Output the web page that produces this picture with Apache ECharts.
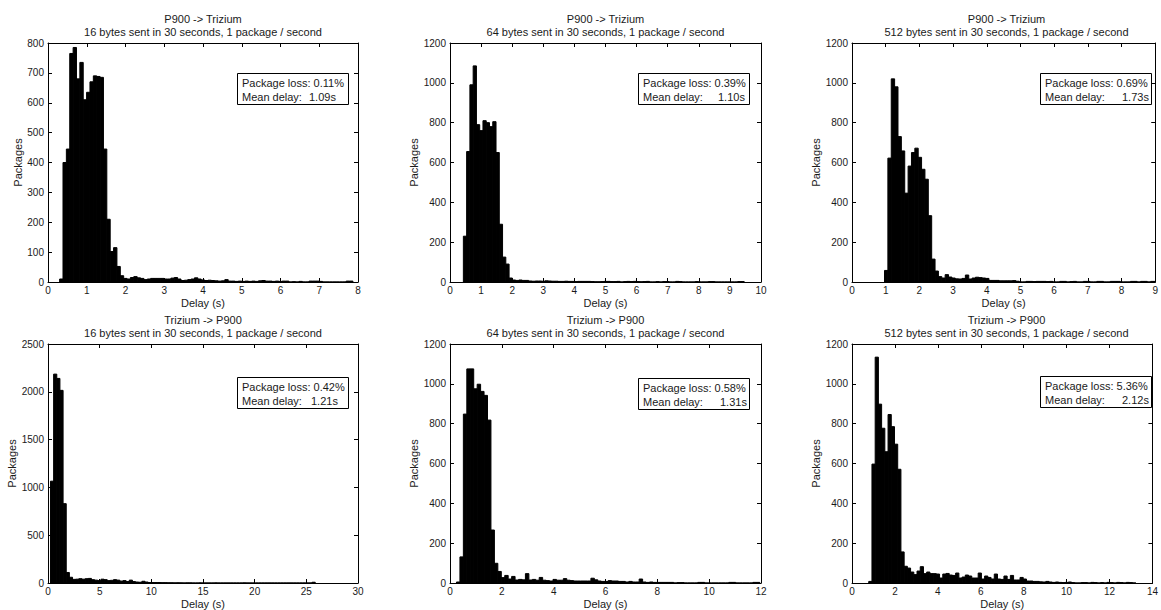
<!DOCTYPE html>
<html>
<head>
<meta charset="utf-8">
<script src="https://cdn.jsdelivr.net/npm/echarts@6/dist/echarts.min.js"></script>
<style>
html,body{margin:0;padding:0;background:#fff;}
#chart{width:1161px;height:610px;}
</style>
</head>
<body>
<div id="chart"></div>
<script>
// ---------------- DATA ----------------
const titleLines = ['P900 -> Trizium', 'P900 -> Trizium', 'P900 -> Trizium', 'Trizium -> P900', 'Trizium -> P900', 'Trizium -> P900'];
const subtitleLines = [
  '16 bytes sent in 30 seconds, 1 package / second',
  '64 bytes sent in 30 seconds, 1 package / second',
  '512 bytes sent in 30 seconds, 1 package / second',
  '16 bytes sent in 30 seconds, 1 package / second',
  '64 bytes sent in 30 seconds, 1 package / second',
  '512 bytes sent in 30 seconds, 1 package / second'
];
const packageLoss = ['0.11%', '0.39%', '0.69%', '0.42%', '0.58%', '5.36%'];
const meanDelay = ['1.09s', '1.10s', '1.73s', '1.21s', '1.31s', '2.12s'];
const xAxisName = 'Delay (s)';
const yAxisName = 'Packages';
const xMax = [8, 10, 9, 30, 12, 14];
const xStep = [1, 1, 1, 5, 2, 2];
const yMax = [800, 1200, 1200, 2500, 1200, 1200];
const yStep = [100, 200, 200, 500, 200, 200];

// histogram bins: first bin edge (s) and bin width (s)
const binStart = [0.30, 0.43, 0.965, 0.24, 0.25, 0.78];
const binWidth = [0.087, 0.105, 0.1, 0.305, 0.133, 0.15];

const counts1 = [10, 400, 445, 765, 785, 680, 735, 610, 635, 670, 690, 688, 685, 445, 210, 102, 115, 52, 21,
  12, 10, 15, 18, 14, 12, 8, 10, 12, 12, 12, 12, 10, 10, 13, 15, 10, 5, 6, 8, 10, 14, 10, 7, 5, 6, 5, 4, 3, 4,
  8, 3, 3, 2, 3, 2, 3, 2, 3, 2, 4, 5, 3, 3, 2, 3, 2, 3, 3, 0, 1, 0, 2, 0, 0, 3, 3, 3, 2, 0, 0, 0, 0, 0, 0, 0, 3, 3];
const counts2 = [230, 655, 990, 1085, 790, 760, 810, 800, 780, 805,
  650, 290, 125, 90, 20, 10, 8, 10, 8, 8,
  5, 4, 5, 5, 4, 6, 5, 4, 4, 3,
  3, 4, 3, 3, 2, 3, 3, 3, 3, 2,
  1, 1, 2, 3, 3, 2, 2, 3, 0, 2,
  3, 2, 3, 2, 1, 2, 3, 0, 0, 2,
  0, 2, 2, 0, 0, 3, 2, 0, 0, 0,
  0, 2, 0, 0, 0, 2, 2, 0, 0, 0,
  0, 0, 0, 0, 2, 2];
const counts3 = [58, 622, 1020, 980, 730, 658, 446, 582, 650, 672,
  626, 566, 516, 333, 115, 55, 27, 20, 37, 25,
  20, 16, 15, 18, 35, 15, 20, 24, 22, 20,
  18, 8, 8, 8, 6, 6, 6, 6, 7, 4,
  0, 0, 3, 3, 2, 3, 3, 3, 2, 3,
  0, 0, 3, 3, 0, 2, 3, 0, 0, 3,
  3, 0, 0, 3, 3, 0, 0, 3, 3, 3,
  0, 0, 0, 3, 3, 0, 3, 3, 0, 3, 3];
const counts4 = [1065, 2185, 2140, 2015, 830, 110, 60, 38, 40, 45,
  40, 45, 48, 35, 30, 25, 40, 35, 25, 28,
  35, 30, 20, 25, 15, 30, 15, 10, 8, 18,
  10, 5, 5, 5, 5, 3, 3, 2, 2, 1,
  2, 1, 0, 1, 1, 0, 0, 1, 0, 0,
  0, 0, 1, 0, 0, 0, 0, 0, 0, 0,
  0, 1, 0, 0, 0, 0, 0, 0, 0, 0,
  0, 0, 0, 0, 0, 0, 0, 0, 0, 0,
  0, 0, 0, 8];
const counts5 = [5, 131, 848, 1075, 1075, 975, 998, 962, 942, 818,
  266, 99, 58, 27, 38, 20, 33, 15, 18, 16,
  47, 15, 18, 14, 28, 14, 12, 10, 18, 14,
  14, 22, 14, 12, 10, 10, 10, 10, 10, 24,
  16, 10, 8, 8, 12, 10, 10, 8, 8, 5,
  8, 5, 5, 20, 5, 3, 5, 3, 3, 3,
  3, 3, 3, 0, 2, 2, 0, 0, 0, 0,
  3, 3, 0, 0, 0, 0, 0, 0, 0, 3,
  3, 0, 0, 0, 0, 0, 3, 3];
const counts6 = [8, 597, 1134, 898, 777, 659, 846, 785, 697, 571,
  156, 84, 75, 55, 42, 60, 82, 47, 55, 47,
  47, 45, 25, 45, 48, 40, 38, 50, 25, 30,
  40, 35, 25, 25, 50, 20, 35, 28, 20, 45,
  20, 18, 35, 18, 38, 15, 15, 28, 20, 10,
  10, 8, 8, 6, 5, 8, 5, 3, 5, 3,
  2, 3, 5, 2, 0, 0, 2, 2, 0, 3,
  2, 0, 2, 0, 3, 2, 0, 3, 2, 0,
  3, 2, 0];
const allCounts = [counts1, counts2, counts3, counts4, counts5, counts6];

// ---------------- LAYOUT / STYLE ----------------
const FONT = '"Liberation Sans", Arial, Helvetica, sans-serif';
const TXT = '#1a1a1a';
const grids = [
  {left: 48, top: 43, width: 310, height: 239},
  {left: 450, top: 43, width: 311, height: 239},
  {left: 852, top: 43, width: 309, height: 239},
  {left: 48, top: 344, width: 310, height: 239},
  {left: 450, top: 344, width: 311, height: 239},
  {left: 852, top: 344, width: 309, height: 239}
];
const yNameGap = [23, 28, 28, 29, 29, 28];
const boxPos = [[237, 73], [638, 73], [1040, 73], [237, 377], [638, 378], [1040, 376]];
const valueOffset = [67, 75, 77, 69, 77, 77];

const xAxes = [], yAxes = [], series = [], graphics = [];
const lineCol = '#000';
const plainNum = function (v) { return String(v); };
grids.forEach((g, i) => {
  const common = {gridIndex: i, type: 'value', min: 0, splitLine: {show: false},
    axisLine: {show: true, onZero: false, lineStyle: {color: lineCol, width: 1}},
    axisTick: {show: true, inside: true, length: 4, lineStyle: {color: lineCol, width: 1}}};
  xAxes.push(Object.assign({}, common, {
    position: 'bottom', max: xMax[i], interval: xStep[i],
    axisLabel: {fontSize: 10, color: TXT, margin: 3, fontFamily: FONT, showMaxLabel: true, showMinLabel: true, formatter: plainNum},
    name: xAxisName, nameLocation: 'middle', nameGap: 15,
    nameTextStyle: {fontSize: 11, color: TXT, fontFamily: FONT}
  }));
  xAxes.push(Object.assign({}, common, {
    position: 'top', max: xMax[i], interval: xStep[i], axisLabel: {show: false}
  }));
  yAxes.push(Object.assign({}, common, {
    position: 'left', max: yMax[i], interval: yStep[i],
    axisLabel: {fontSize: 10, color: TXT, margin: 4, fontFamily: FONT, showMaxLabel: true, formatter: plainNum},
    name: yAxisName, nameLocation: 'middle', nameGap: yNameGap[i],
    nameTextStyle: {fontSize: 11, color: TXT, fontFamily: FONT}
  }));
  yAxes.push(Object.assign({}, common, {
    position: 'right', max: yMax[i], interval: yStep[i], axisLabel: {show: false}
  }));

  const data = allCounts[i].map((c, k) => [binStart[i] + k * binWidth[i], binStart[i] + (k + 1) * binWidth[i], c]);
  series.push({
    type: 'custom', xAxisIndex: 2 * i, yAxisIndex: 2 * i, silent: true, clip: true,
    encode: {x: [0, 1], y: 2},
    data: data,
    renderItem: function (params, api) {
      const p0 = api.coord([api.value(0), api.value(2)]);
      const p1 = api.coord([api.value(1), 0]);
      return {type: 'rect', shape: {x: p0[0], y: p0[1], width: p1[0] - p0[0], height: p1[1] - p0[1]},
        style: {fill: '#000', stroke: '#000', lineWidth: 1}};
    }
  });

  const cx = g.left + g.width / 2;
  const tstyle = {font: '11px ' + FONT, fill: TXT};
  graphics.push({type: 'text', x: cx, y: g.top - 24, silent: true,
    style: Object.assign({text: titleLines[i], align: 'center', verticalAlign: 'middle', textAlign: 'center', textVerticalAlign: 'middle'}, tstyle)});
  graphics.push({type: 'text', x: cx, y: g.top - 11.5, silent: true,
    style: Object.assign({text: subtitleLines[i], align: 'center', verticalAlign: 'middle', textAlign: 'center', textVerticalAlign: 'middle'}, tstyle)});
  const bx = boxPos[i][0], by = boxPos[i][1];
  graphics.push({type: 'rect', silent: true, shape: {x: bx + 0.5, y: by + 0.5, width: 111, height: 31},
    style: {fill: '#fff', stroke: '#000', lineWidth: 1}, z: 100});
  graphics.push({type: 'text', x: bx + 5, y: by + 10, silent: true, z: 101,
    style: Object.assign({text: 'Package loss: ' + packageLoss[i], verticalAlign: 'middle', textVerticalAlign: 'middle'}, tstyle)});
  graphics.push({type: 'text', x: bx + 5, y: by + 23.5, silent: true, z: 101,
    style: Object.assign({text: 'Mean delay:', verticalAlign: 'middle', textVerticalAlign: 'middle'}, tstyle)});
  graphics.push({type: 'text', x: bx + 5 + valueOffset[i], y: by + 23.5, silent: true, z: 101,
    style: Object.assign({text: meanDelay[i], verticalAlign: 'middle', textVerticalAlign: 'middle'}, tstyle)});
});

const chart = echarts.init(document.getElementById('chart'), null, {renderer: 'svg'});
chart.setOption({
  animation: false,
  backgroundColor: '#fff',
  textStyle: {fontFamily: FONT},
  grid: grids,
  xAxis: xAxes,
  yAxis: yAxes,
  series: series,
  graphic: graphics
});
</script>
</body>
</html>
